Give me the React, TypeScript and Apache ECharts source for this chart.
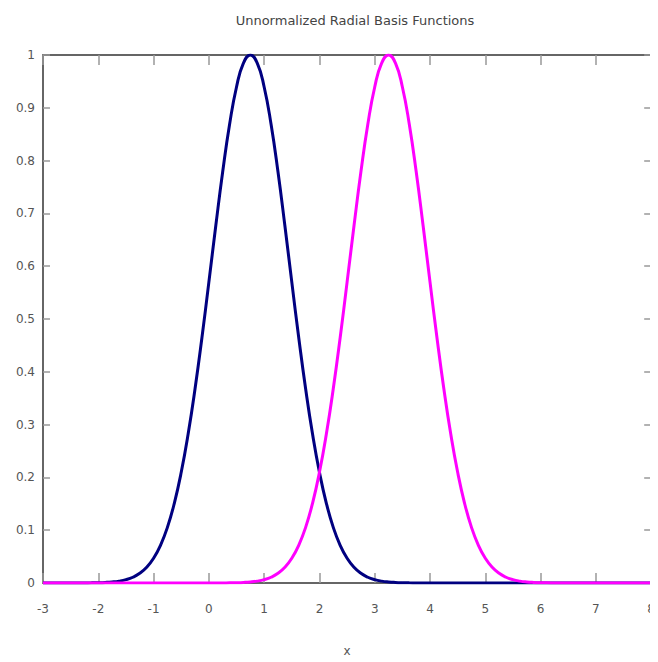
import React, { useEffect, useRef } from "react";
import * as echarts from "echarts";

const title = "Unnormalized Radial Basis Functions";
const xName = "x";
const xValues = [
  -3, -2.875, -2.75, -2.625, -2.5, -2.375, -2.25, -2.125, -2, -1.875, -1.75, -1.625, -1.5, -1.375,
  -1.25, -1.125, -1, -0.875, -0.75, -0.625, -0.5, -0.375, -0.25, -0.125, 0, 0.125, 0.25, 0.375,
  0.5, 0.625, 0.75, 0.875, 1, 1.125, 1.25, 1.375, 1.5, 1.625, 1.75, 1.875, 2, 2.125, 2.25, 2.375,
  2.5, 2.625, 2.75, 2.875, 3, 3.125, 3.25, 3.375, 3.5, 3.625, 3.75, 3.875, 4, 4.125, 4.25, 4.375,
  4.5, 4.625, 4.75, 4.875, 5, 5.125, 5.25, 5.375, 5.5, 5.625, 5.75, 5.875, 6, 6.125, 6.25, 6.375,
  6.5, 6.625, 6.75, 6.875, 7, 7.125, 7.25, 7.375, 7.5, 7.625, 7.75, 7.875, 8,
];
const rbf1 = [
  0, 0, 0, 0,
  0.00003, 0.00006, 0.00012, 0.00026, 0.00052, 0.00102, 0.00193, 0.00355, 0.00633, 0.0109,
  0.0183, 0.0297, 0.0468, 0.0713, 0.1054, 0.151, 0.2096, 0.2821, 0.3679, 0.465, 0.5698, 0.6766,
  0.7788, 0.8688, 0.9394, 0.9845, 1, 0.9845, 0.9394, 0.8688, 0.7788, 0.6766, 0.5698, 0.465,
  0.3679, 0.2821, 0.2096, 0.151, 0.1054, 0.0713, 0.0468, 0.0297, 0.0183, 0.0109, 0.00633,
  0.00355, 0.00193, 0.00102, 0.00052, 0.00026, 0.00012, 0.00006, 0.00003,
  0, 0, 0, 0, 0, 0, 0, 0, 0, 0, 0, 0, 0, 0, 0, 0, 0, 0, 0, 0, 0, 0, 0, 0, 0, 0, 0, 0, 0, 0, 0, 0,
];
const rbf2 = [
  0, 0, 0, 0, 0, 0, 0, 0, 0, 0, 0, 0, 0, 0, 0, 0, 0, 0, 0, 0, 0, 0, 0, 0,
  0.00003, 0.00006, 0.00012, 0.00026, 0.00052, 0.00102, 0.00193, 0.00355, 0.00633, 0.0109,
  0.0183, 0.0297, 0.0468, 0.0713, 0.1054, 0.151, 0.2096, 0.2821, 0.3679, 0.465, 0.5698, 0.6766,
  0.7788, 0.8688, 0.9394, 0.9845, 1, 0.9845, 0.9394, 0.8688, 0.7788, 0.6766, 0.5698, 0.465,
  0.3679, 0.2821, 0.2096, 0.151, 0.1054, 0.0713, 0.0468, 0.0297, 0.0183, 0.0109, 0.00633,
  0.00355, 0.00193, 0.00102, 0.00052, 0.00026, 0.00012, 0.00006, 0.00003,
  0, 0, 0, 0, 0, 0, 0, 0, 0, 0, 0, 0,
];

export default function App() {
  const ref = useRef<HTMLDivElement>(null);
  useEffect(() => {
    const chart = echarts.init(ref.current!, undefined, { renderer: "svg" });
    const frame = { show: true, onZero: false, lineStyle: { color: "#333", width: 1.5 } };
    const tick = { show: true, inside: true, length: 10, lineStyle: { color: "#999", width: 1.5 } };
    const labelStyle = { color: "#555", fontSize: 12, fontFamily: "DejaVu Sans" };
    chart.setOption({
      animation: false,
      backgroundColor: "#fff",
      title: {
        text: title,
        left: 350,
        textAlign: "center",
        top: 9,
        textStyle: { color: "#444", fontSize: 13, fontWeight: "normal", fontFamily: "DejaVu Sans" },
      },
      grid: { left: 43, right: 1, top: 55, bottom: 78 },
      xAxis: [
        {
          type: "value",
          min: -3,
          max: 8,
          interval: 1,
          position: "bottom",
          name: xName,
          nameLocation: "middle",
          nameGap: 62,
          nameTextStyle: labelStyle,
          axisLine: frame,
          axisTick: tick,
          axisLabel: { ...labelStyle, margin: 20 },
          splitLine: { show: false },
        },
        {
          type: "value",
          min: -3,
          max: 8,
          interval: 1,
          position: "top",
          axisLine: frame,
          axisTick: tick,
          axisLabel: { show: false },
          splitLine: { show: false },
        },
      ],
      yAxis: [
        {
          type: "value",
          min: 0,
          max: 1,
          interval: 0.1,
          position: "left",
          axisLine: frame,
          axisTick: { ...tick, length: 7 },
          axisLabel: { ...labelStyle, margin: 8 },
          splitLine: { show: false },
        },
        {
          type: "value",
          min: 0,
          max: 1,
          interval: 0.1,
          position: "right",
          axisLine: frame,
          axisTick: { ...tick, length: 7 },
          axisLabel: { show: false },
          splitLine: { show: false },
        },
      ],
      series: [
        {
          type: "line",
          data: xValues.map((x, i) => [x, rbf1[i]]),
          smooth: true,
          showSymbol: false,
          lineStyle: { color: "#000080", width: 3 },
          z: 3,
        },
        {
          type: "line",
          data: xValues.map((x, i) => [x, rbf2[i]]),
          smooth: true,
          showSymbol: false,
          lineStyle: { color: "#ff00ff", width: 3 },
          z: 4,
        },
      ],
    });
    return () => chart.dispose();
  }, []);
  return <div ref={ref} style={{ width: 658, height: 662, marginLeft: -8, marginTop: -8 }} />;
}
